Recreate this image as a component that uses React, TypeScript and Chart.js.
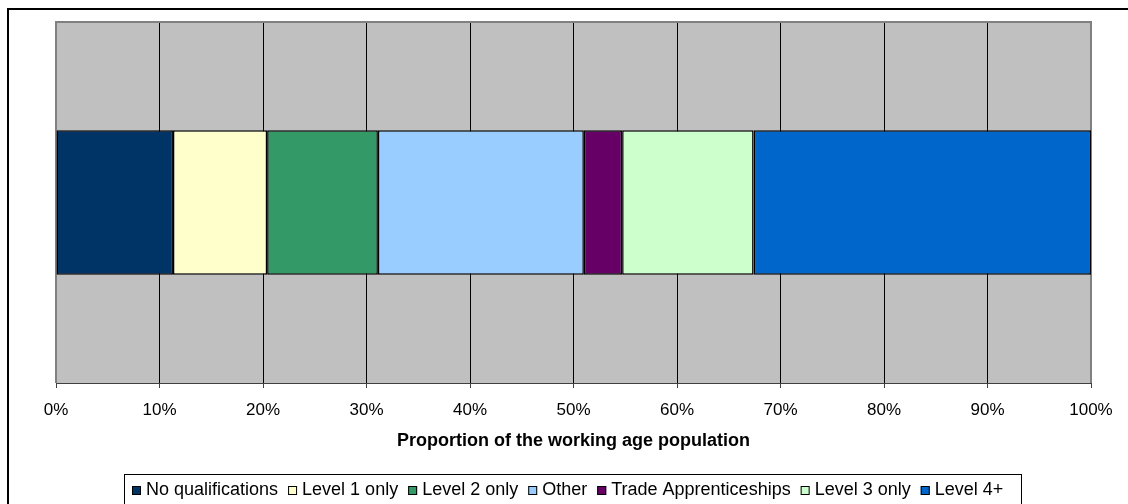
import { useEffect, useRef } from "react";
import { Chart, registerables } from "chart.js";

Chart.register(...registerables);

// Share of the working age population by highest qualification held
const categories = ["Working age population"];
const seriesNames = [
  "No qualifications",
  "Level 1 only",
  "Level 2 only",
  "Other",
  "Trade Apprenticeships",
  "Level 3 only",
  "Level 4+",
];
const seriesValues = [11.3, 9.1, 10.7, 19.9, 3.7, 12.7, 32.6];
const seriesColors = ["#003366", "#FFFFCC", "#339966", "#99CCFF", "#660066", "#CCFFCC", "#0066CC"];
const axisMin = 0;
const axisMax = 100;
const axisStep = 10;
const axisTitle = "Proportion of the working age population";

const FONT = '"Liberation Sans", Arial, sans-serif';

// Page frame, grey plot background and the boxed legend under the axis
const decorPlugin = {
  id: "decor",
  beforeDraw(chart: any) {
    const { ctx, chartArea: a, width, height } = chart;
    ctx.save();
    ctx.fillStyle = "#ffffff";
    ctx.fillRect(0, 0, width, height);
    ctx.fillStyle = "#C0C0C0";
    ctx.fillRect(a.left, a.top, a.right - a.left, a.bottom - a.top);
    ctx.strokeStyle = "#000000";
    ctx.lineWidth = 2;
    ctx.strokeRect(8, 9, width + 40, height + 40);
    ctx.restore();
  },
  beforeDatasetsDraw(chart: any) {
    const { ctx, chartArea: a } = chart;
    ctx.save();
    ctx.strokeStyle = "#808080";
    ctx.lineWidth = 2;
    ctx.beginPath();
    ctx.moveTo(a.left, a.bottom);
    ctx.lineTo(a.left, a.top);
    ctx.lineTo(a.right, a.top);
    ctx.lineTo(a.right, a.bottom);
    ctx.stroke();
    ctx.restore();
  },
  afterDraw(chart: any) {
    const { ctx } = chart;
    const boxLeft = 124;
    const boxTop = 474;
    const boxRight = 1021;
    const textY = 490;
    const marker = 9;
    ctx.save();
    ctx.strokeStyle = "#000000";
    ctx.lineWidth = 1;
    ctx.strokeRect(boxLeft + 0.5, boxTop + 0.5, boxRight - boxLeft, 60);
    ctx.font = `18px ${FONT}`;
    ctx.textBaseline = "middle";
    ctx.textAlign = "left";
    let x = 132;
    chart.data.datasets.forEach((ds: any) => {
      ctx.fillStyle = ds.backgroundColor;
      ctx.fillRect(x, textY - 4, marker, marker);
      ctx.strokeStyle = "#000000";
      ctx.strokeRect(x + 0.5, textY - 4 + 0.5, marker - 1, marker - 1);
      x += marker + 5;
      ctx.fillStyle = "#000000";
      ctx.fillText(ds.label, x, textY);
      x += ctx.measureText(ds.label).width + 10;
    });
    ctx.restore();
  },
};

export default function App() {
  const canvasRef = useRef<HTMLCanvasElement | null>(null);

  useEffect(() => {
    const canvas = canvasRef.current;
    if (!canvas) return;
    const chart = new Chart(canvas, {
      type: "bar",
      data: {
        labels: categories,
        datasets: seriesNames.map((name, i) => ({
          label: name,
          data: [seriesValues[i]],
          backgroundColor: seriesColors[i],
          borderColor: "#000000",
          borderWidth: 1.5,
          borderSkipped: false,
          barPercentage: 0.4,
          categoryPercentage: 1,
        })),
      },
      options: {
        indexAxis: "y",
        animation: false,
        responsive: false,
        maintainAspectRatio: false,
        layout: { padding: { left: 56, right: 37, top: 22, bottom: 0 } },
        plugins: {
          legend: { display: false },
          tooltip: { enabled: false },
        },
        scales: {
          x: {
            type: "linear",
            stacked: true,
            min: axisMin,
            max: axisMax,
            afterFit: (scale: any) => {
              scale.height = 121;
            },
            ticks: {
              stepSize: axisStep,
              color: "#000000",
              padding: 12,
              maxRotation: 0,
              autoSkip: false,
              font: { family: FONT, size: 17 },
              callback: (v: any) => `${v}%`,
            },
            grid: {
              color: "#000000",
              lineWidth: 1,
              drawTicks: true,
              tickLength: 5,
              tickColor: "#404040",
            },
            border: { display: true, color: "#404040", width: 1 },
            title: {
              display: true,
              text: axisTitle,
              color: "#000000",
              font: { family: FONT, size: 18, weight: "bold" },
              padding: { top: 0, bottom: 52 },
            },
          },
          y: {
            stacked: true,
            display: false,
          },
        },
      },
      plugins: [decorPlugin],
    } as any);
    return () => chart.destroy();
  }, []);

  return (
    <div style={{ position: "fixed", left: 0, top: 0, width: 1128, height: 504 }}>
      <canvas ref={canvasRef} width={1128} height={504} style={{ display: "block" }} />
    </div>
  );
}
